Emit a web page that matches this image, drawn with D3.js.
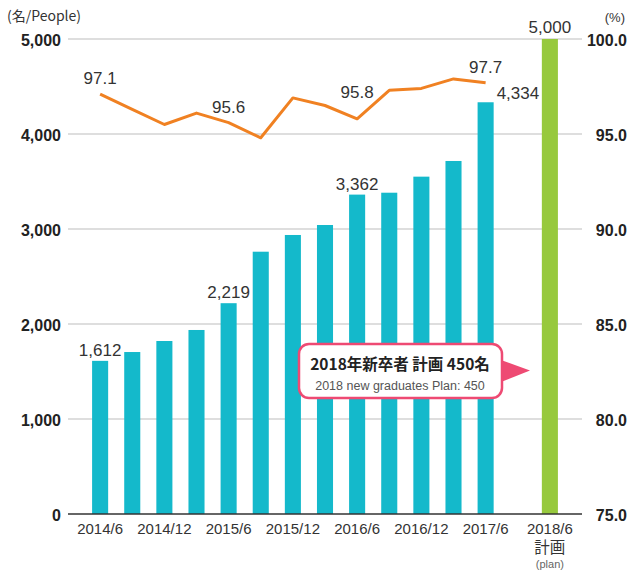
<!DOCTYPE html>
<html>
<head>
    <meta charset="utf-8">
    <script src="https://d3js.org/d3.v7.min.js"></script>
    <style>
        body { margin: 0; background: #fff; }
        text { font-family: "Liberation Sans", Arial, sans-serif; }
        .cjk { font-family: "Noto Sans CJK JP", "Liberation Sans", sans-serif; }
    </style>
</head>
<body>
    <svg width="630" height="571"></svg>

    <script>
        // Quarterly headcount (bars, left axis) and rate (line, right axis)
        const periods = ["2014/6", "2014/9", "2014/12", "2015/3", "2015/6", "2015/9", "2015/12",
                         "2016/3", "2016/6", "2016/9", "2016/12", "2017/3", "2017/6"];
        const employees = [1612, 1705, 1821, 1937, 2219, 2761, 2937, 3042, 3362, 3382, 3551, 3716, 4334];
        const rates = [97.1, 96.3, 95.5, 96.1, 95.6, 94.8, 96.9, 96.5, 95.8, 97.3, 97.4, 97.9, 97.7];
        const planPeriod = "2018/6";
        const planValue = 5000;

        const labeledIdx = [0, 4, 8, 12];            // points with value labels
        const tickPeriods = ["2014/6", "2014/12", "2015/6", "2015/12", "2016/6", "2016/12", "2017/6"];
        const leftTicks = [0, 1000, 2000, 3000, 4000, 5000];
        const rightTicks = [75, 80, 85, 90, 95, 100];

        const svg = d3.select("svg");
        const plotLeft = 68, plotRight = 582, plotTop = 39, plotBottom = 514;

        const x = d3.scaleBand()
            .domain([...periods, "gap", planPeriod])
            .range([plotLeft, plotRight])
            .paddingInner(0.5)
            .paddingOuter(0.75);
        const y = d3.scaleLinear().domain([0, 5000]).range([plotBottom, plotTop]);
        const y2 = d3.scaleLinear().domain([75, 100]).range([plotBottom, plotTop]);
        const cx = p => x(p) + x.bandwidth() / 2;

        // gridlines
        svg.append("g").selectAll("line")
            .data(leftTicks.slice(1))
            .enter().append("line")
            .attr("x1", plotLeft).attr("x2", plotRight)
            .attr("y1", d => y(d)).attr("y2", d => y(d))
            .attr("stroke", "#bdbdbd").attr("stroke-width", 1);

        // left tick labels
        svg.append("g").selectAll("text")
            .data(leftTicks)
            .enter().append("text")
            .attr("x", 61).attr("y", d => y(d) + 1)
            .attr("dy", "0.36em")
            .attr("text-anchor", "end")
            .attr("font-size", "16px").attr("font-weight", "bold").attr("fill", "#222")
            .text(d => d3.format(",")(d));

        // right tick labels
        svg.append("g").selectAll("text")
            .data(rightTicks)
            .enter().append("text")
            .attr("x", 627).attr("y", d => y2(d) + 1)
            .attr("dy", "0.36em")
            .attr("text-anchor", "end")
            .attr("font-size", "16px").attr("font-weight", "bold").attr("fill", "#222")
            .text(d => d.toFixed(1));

        // unit labels
        svg.append("text").attr("class", "cjk")
            .attr("x", 7).attr("y", 21)
            .attr("font-size", "14px").attr("fill", "#333")
            .text("(名/People)");
        svg.append("text")
            .attr("x", 625).attr("y", 22)
            .attr("text-anchor", "end")
            .attr("font-size", "13px").attr("fill", "#333")
            .text("(%)");

        // bars
        svg.append("g").selectAll("rect")
            .data(employees)
            .enter().append("rect")
            .attr("x", (d, i) => x(periods[i]))
            .attr("y", d => y(d))
            .attr("width", x.bandwidth())
            .attr("height", d => y(0) - y(d))
            .attr("fill", "#14b9cb");
        svg.append("rect")
            .attr("x", x(planPeriod)).attr("y", y(planValue))
            .attr("width", x.bandwidth()).attr("height", y(0) - y(planValue))
            .attr("fill", "#97c93d");

        // x axis line
        svg.append("line")
            .attr("x1", plotLeft).attr("x2", plotRight)
            .attr("y1", plotBottom).attr("y2", plotBottom)
            .attr("stroke", "#333").attr("stroke-width", 1.5);

        // x tick labels
        svg.append("g").selectAll("text")
            .data(tickPeriods)
            .enter().append("text")
            .attr("x", d => cx(d)).attr("y", 534)
            .attr("text-anchor", "middle")
            .attr("font-size", "15px").attr("fill", "#333")
            .text(d => d);

        // plan label: three stacked lines in one text element
        const planLabel = svg.append("text")
            .attr("x", cx(planPeriod)).attr("y", 534)
            .attr("text-anchor", "middle")
            .attr("font-size", "15px").attr("fill", "#333");
        planLabel.append("tspan")
            .attr("x", cx(planPeriod))
            .text(planPeriod);
        planLabel.append("tspan")
            .attr("class", "cjk")
            .attr("x", cx(planPeriod)).attr("dy", 19)
            .attr("font-size", "15.5px")
            .text("計画");
        planLabel.append("tspan")
            .attr("x", cx(planPeriod)).attr("dy", 15)
            .attr("font-size", "11px").attr("fill", "#666")
            .text("(plan)");

        // rate line
        const line = d3.line()
            .x((d, i) => cx(periods[i]))
            .y(d => y2(d));
        svg.append("path")
            .datum(rates)
            .attr("d", line)
            .attr("fill", "none")
            .attr("stroke", "#f08122")
            .attr("stroke-width", 3)
            .attr("stroke-linejoin", "round");

        // rate labels
        svg.append("g").selectAll("text")
            .data(labeledIdx)
            .enter().append("text")
            .attr("x", i => cx(periods[i]))
            .attr("y", i => y2(rates[i]) - (i === 8 ? 21 : 10))
            .attr("text-anchor", "middle")
            .attr("font-size", "17px").attr("fill", "#333")
            .text(i => rates[i].toFixed(1));

        // bar labels
        svg.append("g").selectAll("text")
            .data(labeledIdx)
            .enter().append("text")
            .attr("x", i => i === 12 ? x(periods[i]) + x.bandwidth() + 3 : cx(periods[i]))
            .attr("y", i => y(employees[i]) - (i === 12 ? 3 : 5))
            .attr("text-anchor", i => i === 12 ? "start" : "middle")
            .attr("font-size", "17px").attr("fill", "#333")
            .text(i => d3.format(",")(employees[i]));
        svg.append("text")
            .attr("x", cx(planPeriod)).attr("y", y(planValue) - 6)
            .attr("text-anchor", "middle")
            .attr("font-size", "17px").attr("fill", "#333")
            .text(d3.format(",")(planValue));

        // callout
        const callout = svg.append("g");
        callout.append("path")
            .attr("d", "M501,360 L530,370.5 L501,382 Z")
            .attr("fill", "#ee4a73");
        callout.append("rect")
            .attr("x", 299).attr("y", 344)
            .attr("width", 203).attr("height", 54)
            .attr("rx", 10)
            .attr("fill", "#fff")
            .attr("stroke", "#ee4a73").attr("stroke-width", 2.5);
        callout.append("text").attr("class", "cjk")
            .attr("x", 400).attr("y", 370)
            .attr("text-anchor", "middle")
            .attr("font-size", "15.5px").attr("font-weight", "bold").attr("fill", "#222")
            .text("2018年新卒者 計画 450名");
        callout.append("text")
            .attr("x", 400).attr("y", 390)
            .attr("text-anchor", "middle")
            .attr("font-size", "12.5px").attr("fill", "#555")
            .text("2018 new graduates Plan: 450");
    </script>
</body>
</html>
